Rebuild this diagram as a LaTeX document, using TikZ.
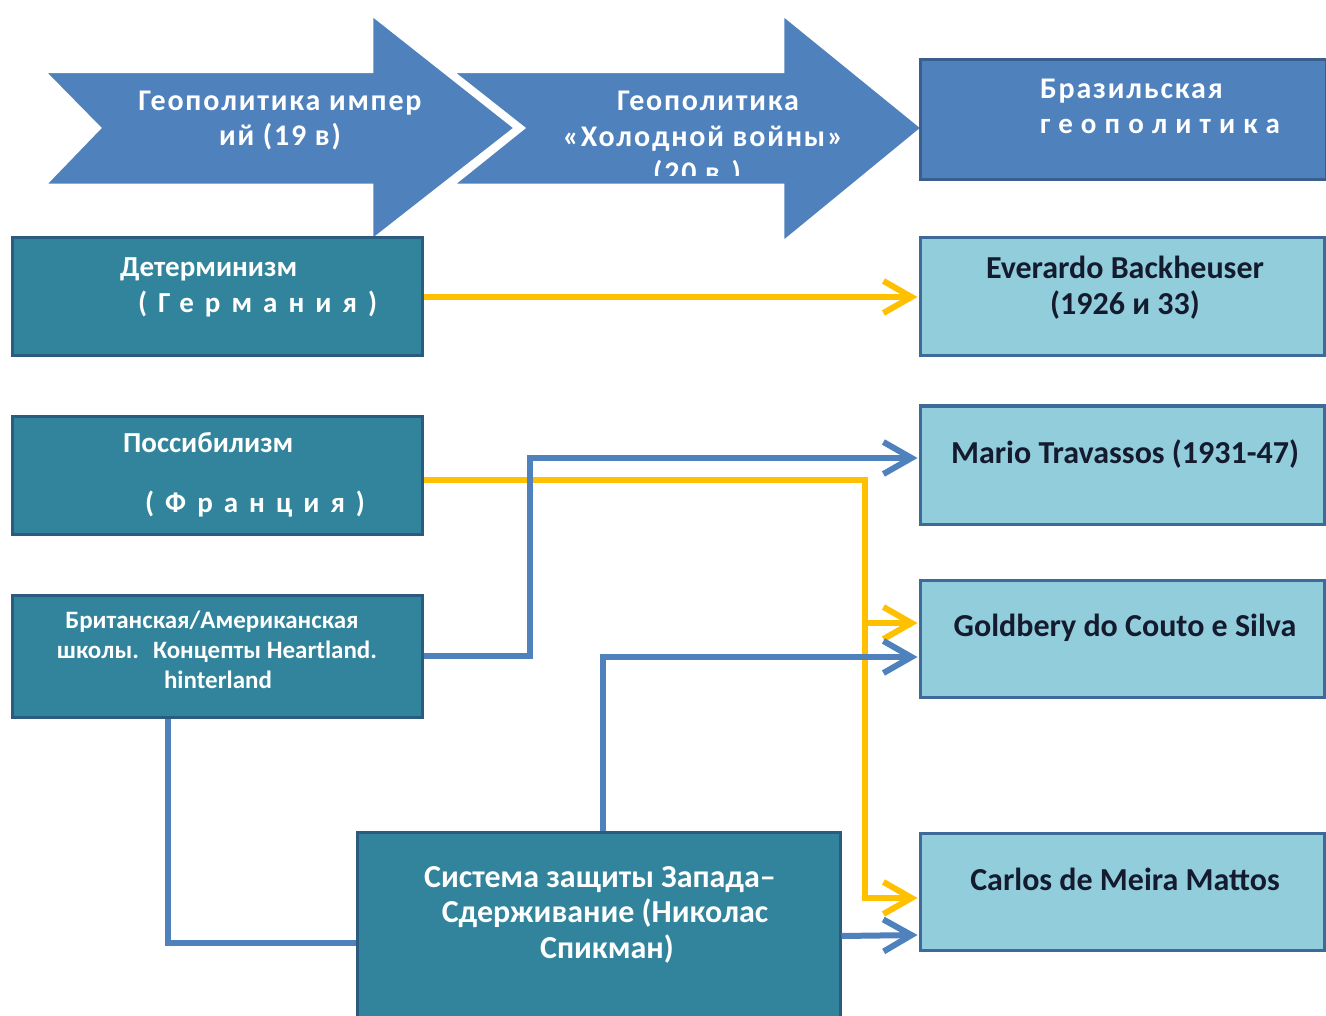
\documentclass[tikz,border=0pt]{standalone}
\usepackage{fontspec}
\setmainfont{Carlito}
\usetikzlibrary{arrows.meta}
\definecolor{hdrfill}{HTML}{4F81BD}
\definecolor{hdrline}{HTML}{3A5F8F}
\definecolor{tealfill}{HTML}{31849B}
\definecolor{tealline}{HTML}{2B5B7E}
\definecolor{ltfill}{HTML}{92CDDC}
\definecolor{ltline}{HTML}{3D6A99}
\definecolor{yelc}{HTML}{FFC000}
\definecolor{bluc}{HTML}{4F81BD}
\definecolor{navyt}{HTML}{141B2E}
\newcommand\FSz[1]{\fontsize{#1pt}{#1pt}\selectfont}
\begin{document}
\begin{tikzpicture}[x=1pt,y=-1pt,
  hdrbox/.style={fill=hdrfill,draw=hdrline,line width=3pt,inner sep=0},
  dkbox/.style={fill=tealfill,draw=tealline,line width=3pt,inner sep=0,minimum width=410pt},
  ltbox/.style={fill=ltfill,draw=ltline,line width=3pt,inner sep=0,minimum width=404pt,minimum height=117pt},
  wt/.style={text=white,inner sep=0,anchor=base,font=\bfseries},
  hdt/.style={wt,font=\bfseries\FSz{30}\addfontfeature{LetterSpace=6}},
  bt/.style={text=navyt,inner sep=0,anchor=base,font=\bfseries\FSz{32}},
  yel/.style={draw=yelc,line width=6pt,line join=miter,-{Straight Barb[length=28pt,width=32pt]},shorten >=1pt},
  blu/.style={draw=bluc,line width=6pt,line join=miter,-{Straight Barb[length=28pt,width=32pt]},shorten >=1pt},
  bluplain/.style={draw=bluc,line width=6pt,line join=miter}]
\useasboundingbox (0,0) rectangle (1326,1016);
\fill[white] (0,0) rectangle (1326,1016);

% header arrows
\path[fill=hdrfill,draw=white,line width=2.5pt,line join=miter]
  (45,72) -- (372,72) -- (372,15) -- (515,128) -- (372,240) -- (372,185) -- (45,185) -- (100,128) -- cycle;
\path[fill=hdrfill,draw=white,line width=2.5pt,line join=miter]
  (453,72) -- (783,72) -- (783,15) -- (922,128) -- (783,242) -- (783,185) -- (453,185) -- (524,128) -- cycle;
\node[hdrbox,minimum width=406pt,minimum height=120pt] (brz) at (1123,120) {};

\node[hdt] (a1a) at (280,111) {Геополитика импер};
\node[hdt] (a1b) at (280,146) {ий (19 в)};
\node[hdt] (a2a) at (708,111) {Геополитика};
\node[hdt] (a2b) at (703,147) {«Холодной войны»};
\begin{scope}
\clip (600,150) rectangle (800,176);
\node[hdt] (a2c) at (697,183) {(20 в.)};
\end{scope}
\node[hdt,anchor=base west] (bza) at (1040,99) {Бразильская};
\node[wt,font=\bfseries\FSz{29},anchor=base west] (bzb) at (1040,134) {\addfontfeature{LetterSpace=28}геополитика};

% left boxes
\node[dkbox,minimum height=118pt] (l1) at (217,297) {};
\node[dkbox,minimum height=118pt] (l2) at (217,475) {};
\node[dkbox,minimum height=122pt] (l3) at (217,656) {};
\node[dkbox,minimum width=483pt,minimum height=200pt] (l4) at (598.5,932) {};

% right boxes
\node[ltbox,minimum height=118pt] (r1) at (1122,297) {};
\node[ltbox,minimum height=118pt] (r2) at (1122,465) {};
\node[ltbox] (r3) at (1122,638.5) {};
\node[ltbox] (r4) at (1122,891.5) {};

% left texts
\node[wt,font=\bfseries\FSz{29},anchor=base west] (l1a) at (120,277) {Детерминизм};
\node[wt,font=\bfseries\FSz{29},anchor=base west] (l1b) at (138,313) {\addfontfeature{LetterSpace=38}(Германия)};
\node[wt,font=\bfseries\FSz{29},anchor=base west] (l2a) at (123,452) {Поссибилизм};
\node[wt,font=\bfseries\FSz{29},anchor=base west] (l2b) at (145,512) {\addfontfeature{LetterSpace=38}(Франция)};
\node[wt,font=\bfseries\FSz{25}] (l3a) at (212,628) {Британская/Американская};
\node[wt,font=\bfseries\FSz{25}] (l3b) at (217,658) {школы.\hspace{14pt}Концепты Heartland.};
\node[wt,font=\bfseries\FSz{25}] (l3c) at (218,688) {hinterland};
\node[wt,font=\bfseries\FSz{32}] (l4a) at (600,887) {Система защиты Запада–};
\node[wt,font=\bfseries\FSz{32}] (l4b) at (605,922) {Сдерживание (Николас};
\node[wt,font=\bfseries\FSz{32}] (l4c) at (607,958) {Спикман)};

% right texts
\node[bt] (r1a) at (1125,279) {Everardo Backheuser};
\node[bt] (r1b) at (1125,315) {(1926 и 33)};
\node[bt] (r2a) at (1125,463) {Mario Travassos (1931-47)};
\node[bt] (r3a) at (1125,636) {Goldbery do Couto e Silva};
\node[bt] (r4a) at (1125,890) {Carlos de Meira Mattos};

% connector coordinates
\coordinate (yv) at (865,480);
\coordinate (y3) at ([yshift=15.5pt]r3.west);
\coordinate (y4) at ([yshift=-6.5pt]r4.west);
\coordinate (bx) at (530,0);
\coordinate (b2) at ([yshift=7pt]r2.west);
\coordinate (b3) at ([yshift=-18.5pt]r3.west);
\coordinate (b4) at ([yshift=-43.5pt]r4.west);
\coordinate (l4t) at ([xshift=4.5pt]l4.north);
\coordinate (l3s) at ([xshift=-49pt]l3.south);
\coordinate (l4w) at ([yshift=-11pt]l4.west);

% yellow connectors
\draw[yel] (l1.east) -- (r1.west);
\draw[yel] ([yshift=-5pt]l2.east) -- (yv) -- (yv |- y4) -- (y4);
\draw[yel] (yv |- y3) -- (y3);

% blue connectors
\draw[blu] (l3.east) -- (bx |- l3.east) -- (bx |- b2) -- (b2);
\draw[blu] (l4t) -- (l4t |- b3) -- (b3);
\draw[bluplain] (l3s) |- (l4w);
\draw[blu] ([yshift=-4pt]l4.east) -- (b4);
\end{tikzpicture}
\end{document}
